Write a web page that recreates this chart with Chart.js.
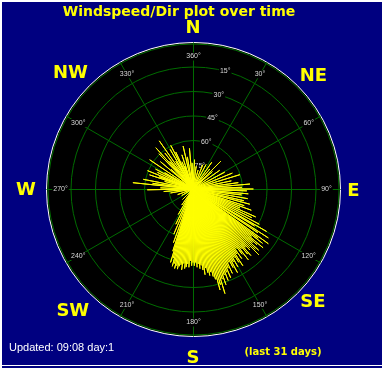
<!DOCTYPE html>
<html>
<head>
<meta charset="utf-8">
<script src="https://cdn.jsdelivr.net/npm/chart.js@4.4.1/dist/chart.umd.min.js"></script>
<style>
  html, body { margin: 0; padding: 0; background: #000080; }
  canvas { display: block; }
</style>
</head>
<body>
<canvas id="mychart" width="382" height="368"></canvas>
<script>
// wind samples: direction in degrees (from north, clockwise) and speed (0..90 = outer ring)
var directions = [
  276, 281, 269, 288, 304, 295, 300, 310, 316, 325, 320, 330, 335, 338, 342, 347, 350, 355, 358, 3, 8,
  285, 292, 298, 312, 318, 322, 328, 333, 340, 290, 278, 272, 265, 260, 250, 240,
  15, 22, 28, 35, 40, 45, 48, 55, 62, 68, 73, 78, 82, 85, 88, 90, 92, 95,
  97, 100, 103, 105, 108, 110, 112, 114, 116, 118, 120, 121, 123, 124, 126, 127, 128, 129, 130,
  131, 132, 133, 134, 135, 136, 137, 138, 139, 140, 141, 142, 143, 144, 145, 146, 147, 148, 149,
  150, 151, 152, 153, 154, 155, 156, 157, 158, 159, 160, 161, 162, 163, 164, 165, 166, 167, 168,
  169, 170, 171, 172, 173, 174, 175, 176, 177, 178, 179, 180, 181, 182, 183, 184, 185, 186, 187,
  188, 189, 190, 191, 192, 193, 194, 195, 196, 197, 198, 200, 203, 206, 210, 215, 225
];
var speeds = [
  37, 31, 28, 28, 32, 24, 20, 26, 30, 36, 22, 28, 25, 18, 22, 27, 20, 25, 16, 18, 14,
  18, 30, 26, 18, 34, 28, 20, 30, 15, 22, 25, 20, 18, 14, 10, 8,
  12, 16, 17, 20, 16, 24, 16, 20, 22, 26, 30, 24, 28, 35, 30, 37, 33, 34,
  30, 34, 32, 36, 33, 38, 31, 42, 40, 46, 52, 44, 55, 48, 57, 50, 54, 46, 56,
  52, 49, 55, 53, 57, 50, 51, 48, 54, 52, 47, 55, 50, 45, 52, 48, 56, 53, 49,
  55, 51, 58, 54, 50, 57, 53, 59, 55, 60, 56, 62, 58, 67, 61, 64, 57, 55, 52,
  54, 52, 49, 53, 50, 47, 49, 46, 48, 45, 47, 45, 47, 44, 48, 46, 48, 49, 46,
  50, 47, 48, 50, 48, 50, 47, 49, 44, 47, 40, 35, 30, 24, 18, 12, 9
];
var maxRadius = 90;
var angleLabels = ['360°', '30°', '60°', '90°', '120°', '150°', '180°', '210°', '240°', '270°', '300°', '330°'];
var ringLabels = ['15°', '30°', '45°', '60°', '75°'];
var compassLabels = ['N', 'NE', 'E', 'SE', 'S', 'SW', 'W', 'NW'];
var titleText = 'Windspeed/Dir plot over time';
var updatedText = 'Updated: 09:08 day:1';
var periodText = '(last 31 days)';

function polar(dir, r) {
    var a = dir * Math.PI / 180;
    return { x: r * Math.sin(a), y: r * Math.cos(a) };
}

// each ray goes out from the centre and back again
var rays = [];
for (var i = 0; i < directions.length; i++) {
    rays.push({ x: 0, y: 0 });
    rays.push(polar(directions[i], speeds[i]));
}
rays.push({ x: 0, y: 0 });

// compass letter placement: [bearing, distance from centre in px, baseline offset]
var compassPos = [[0, 162, 6], [46.5, 166, 6.5], [90, 160.5, 6.5], [133, 164, 6.5], [180, 167, 6.5], [225, 170, 7], [270, 167, 6.3], [314, 170.5, 7]];

var dialPlugin = {
    id: 'dial',
    beforeDraw: function(chart) {
        var ctx = chart.ctx;
        var xs = chart.scales.x, ys = chart.scales.y;
        var cx = xs.getPixelForValue(0), cy = ys.getPixelForValue(0);
        var R = xs.getPixelForValue(maxRadius) - cx;
        var k = R / maxRadius;
        ctx.save();
        // frame
        ctx.fillStyle = '#000080';
        ctx.fillRect(0, 0, chart.width, chart.height);
        ctx.fillStyle = '#ffffff';
        ctx.fillRect(0, 0, chart.width, 2);
        ctx.fillRect(0, 0, 2, chart.height);
        ctx.fillRect(0, chart.height - 3, chart.width, 1);
        // dial, half pixel shift keeps the 1px grid crisp
        ctx.translate(0.5, 0.5);
        ctx.beginPath();
        ctx.arc(cx, cy, R, 0, Math.PI * 2);
        ctx.fillStyle = '#000000';
        ctx.fill();
        ctx.lineWidth = 1;
        ctx.strokeStyle = '#ffffff';
        ctx.stroke();
        ctx.strokeStyle = '#006c00';
        ctx.beginPath();
        ctx.arc(cx, cy, R - 1.5, 0, Math.PI * 2);
        ctx.stroke();
        for (var i = 0; i < ringLabels.length; i++) {
            var rv = maxRadius - parseInt(ringLabels[i], 10);
            ctx.beginPath();
            ctx.arc(cx, cy, rv * k, 0, Math.PI * 2);
            ctx.stroke();
        }
        for (var j = 0; j < angleLabels.length; j++) {
            var p = polar(j * 30, maxRadius);
            ctx.beginPath();
            ctx.moveTo(cx, cy);
            ctx.lineTo(xs.getPixelForValue(p.x), ys.getPixelForValue(p.y));
            ctx.stroke();
        }
        // labels with black backdrop
        ctx.font = '7px "Liberation Sans", Arial, sans-serif';
        ctx.textAlign = 'center';
        ctx.textBaseline = 'middle';
        function label(txt, px, py) {
            var w = ctx.measureText(txt).width;
            ctx.fillStyle = '#000000';
            ctx.fillRect(px - w / 2 - 1, py - 4, w + 2, 8);
            ctx.fillStyle = '#d8d8d8';
            ctx.fillText(txt, px, py);
        }
        for (var a = 0; a < angleLabels.length; a++) {
            var q = polar(a * 30, (R - 14) / k);
            label(angleLabels[a], xs.getPixelForValue(q.x), ys.getPixelForValue(q.y));
        }
        for (var b = 0; b < ringLabels.length; b++) {
            var s = polar(15, maxRadius - parseInt(ringLabels[b], 10));
            label(ringLabels[b], xs.getPixelForValue(s.x), ys.getPixelForValue(s.y));
        }
        ctx.restore();
    },
    afterDraw: function(chart) {
        var ctx = chart.ctx;
        var xs = chart.scales.x, ys = chart.scales.y;
        var cx = xs.getPixelForValue(0), cy = ys.getPixelForValue(0);
        ctx.save();
        ctx.fillStyle = '#ffff00';
        ctx.textAlign = 'center';
        ctx.textBaseline = 'alphabetic';
        ctx.font = 'bold 18px "DejaVu Sans", Verdana, sans-serif';
        for (var i = 0; i < compassLabels.length; i++) {
            var c = compassPos[i];
            var a = c[0] * Math.PI / 180;
            ctx.fillText(compassLabels[i], cx + c[1] * Math.sin(a), cy - c[1] * Math.cos(a) + c[2]);
        }
        ctx.font = 'bold 14px "DejaVu Sans", Verdana, sans-serif';
        ctx.fillText(titleText, 179, 16);
        ctx.font = 'bold 10px "DejaVu Sans", Verdana, sans-serif';
        ctx.fillText(periodText, 283, 355);
        ctx.textAlign = 'left';
        ctx.fillStyle = '#ffffff';
        ctx.font = '11px "Liberation Sans", Arial, sans-serif';
        ctx.fillText(updatedText, 9, 351);
        ctx.restore();
    }
};

var config = {
    type: 'scatter',
    data: {
        datasets: [{
            label: 'Wind',
            data: rays,
            showLine: true,
            borderColor: '#ffff00',
            borderWidth: 1,
            borderJoinStyle: 'bevel',
            pointRadius: 0,
            pointHoverRadius: 0
        }]
    },
    options: {
        responsive: false,
        animation: false,
        devicePixelRatio: 1,
        layout: { padding: { left: 46, right: 42, top: 42, bottom: 32 } },
        scales: {
            x: { type: 'linear', min: -maxRadius, max: maxRadius, display: false },
            y: { type: 'linear', min: -maxRadius, max: maxRadius, display: false }
        },
        plugins: {
            legend: { display: false },
            tooltip: { enabled: false }
        }
    },
    plugins: [dialPlugin]
};

var ctx = document.getElementById('mychart').getContext('2d');
window.windChart = new Chart(ctx, config);
</script>
</body>
</html>
